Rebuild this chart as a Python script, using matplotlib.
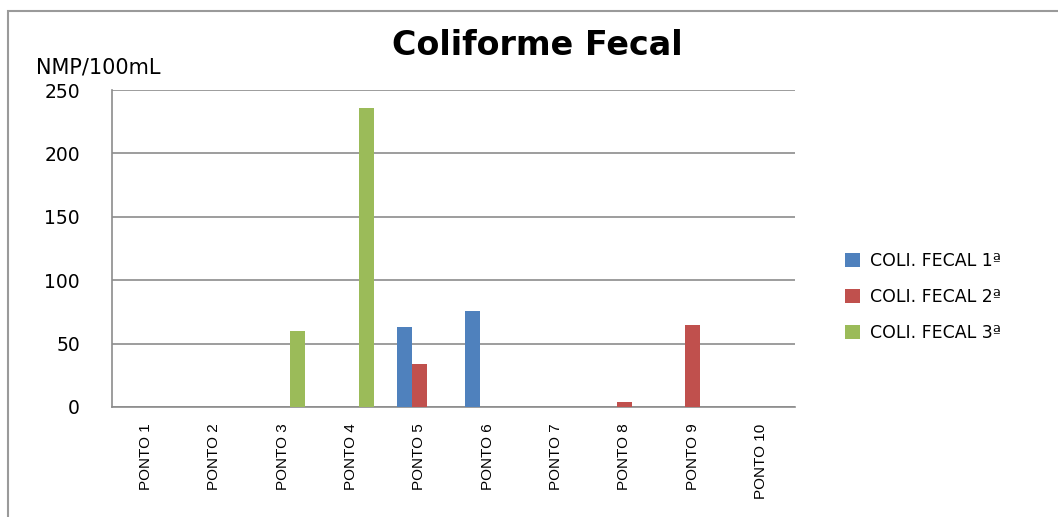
import numpy as np
import matplotlib
matplotlib.use("Agg")
import matplotlib.pyplot as plt
from matplotlib.patches import Rectangle

plt.rcParams["font.family"] = ["DejaVu Sans"]

# dados de coliforme fecal por ponto de coleta (NMP/100mL)
pontos = ["PONTO 1", "PONTO 2", "PONTO 3", "PONTO 4", "PONTO 5",
          "PONTO 6", "PONTO 7", "PONTO 8", "PONTO 9", "PONTO 10"]
coleta1 = [0, 0, 0, 0, 63, 76, 0, 0, 0, 0]
coleta2 = [0, 0, 0, 0, 34, 0, 0, 4, 65, 0]
coleta3 = [0, 0, 60, 236, 0, 0, 0, 0, 0, 0]
series = ["COLI. FECAL 1ª", "COLI. FECAL 2ª", "COLI. FECAL 3ª"]
cores = ["#4F81BD", "#C0504D", "#9BBB59"]

fig = plt.figure(figsize=(10.58, 5.17), dpi=100)
ax = fig.add_axes([0.1059, 0.2128, 0.6455, 0.6131])

x = np.arange(len(pontos))
w = 0.22
for i, (vals, nome, cor) in enumerate(zip([coleta1, coleta2, coleta3], series, cores)):
    ax.bar(x + (i - 1) * w, vals, width=w, color=cor, label=nome, zorder=3)

ax.set_xlim(-0.5, len(pontos) - 0.5)
ax.set_ylim(0, 250)
ax.set_yticks(np.arange(0, 251, 50))
ax.yaxis.grid(True, color="#8c8c8c", linewidth=1.2, zorder=0)
ax.tick_params(axis="y", length=0, pad=23, labelsize=13.5)
ax.tick_params(axis="x", length=0, pad=12)
ax.set_xticks(x)
ax.set_xticklabels(pontos, rotation=90, fontsize=11, family="Liberation Sans")

for s in ["top", "right"]:
    ax.spines[s].set_visible(False)
for s in ["left", "bottom"]:
    ax.spines[s].set_color("#8c8c8c")
    ax.spines[s].set_linewidth(1.2)

fig.text(0.508, 0.912, "Coliforme Fecal", ha="center", va="center",
         fontsize=24, fontweight="bold")
fig.text(0.034, 0.870, "NMP/100mL", ha="left", va="center", fontsize=15)

ax.legend(loc="center left", bbox_to_anchor=(1.05, 0.347), frameon=False,
          fontsize=12.5, handlelength=0.85, handleheight=0.85,
          handletextpad=0.6, labelspacing=1.05)

# moldura externa do grafico
fig.patches.append(Rectangle((8 / 1058, -0.2), 1.5, 1.2 - 11 / 517,
                             transform=fig.transFigure, fill=False,
                             edgecolor="#9a9a9a", linewidth=1.5))

fig.savefig("out.png", dpi=100)
